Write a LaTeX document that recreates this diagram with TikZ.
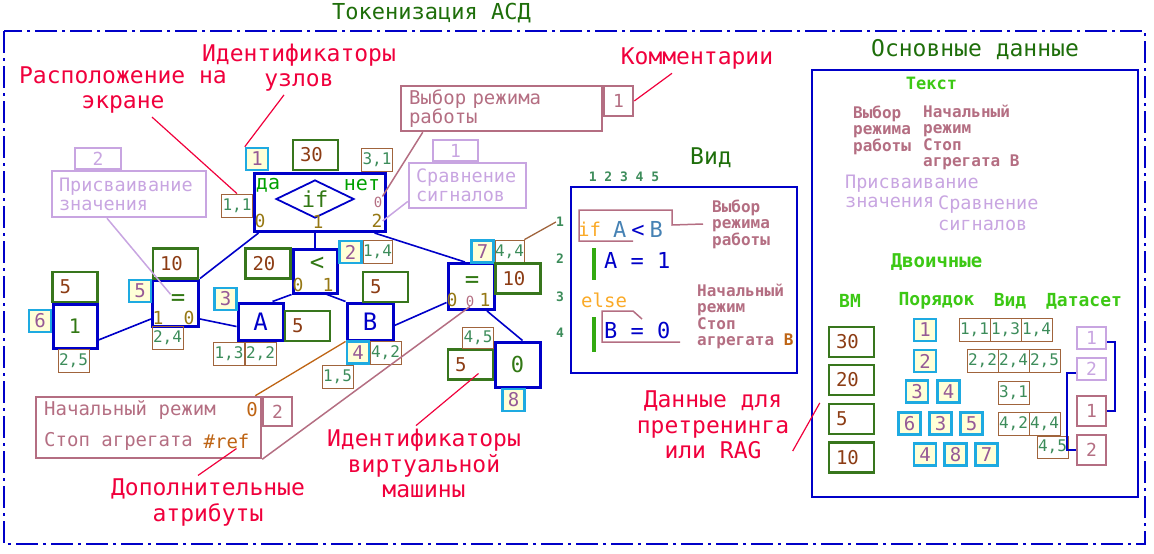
\documentclass[tikz,border=0pt]{standalone}
\usepackage{fontspec}
\setmainfont{DejaVu Sans Mono}
\usetikzlibrary{shapes.geometric,calc}
\definecolor{cadblue}{RGB}{0,0,200}
\definecolor{vmgreen}{RGB}{56,118,29}
\definecolor{numbrown}{RGB}{140,60,20}
\definecolor{idcyan}{RGB}{30,170,225}
\definecolor{idfill}{RGB}{255,255,215}
\definecolor{idtext}{RGB}{150,90,150}
\definecolor{crdbrown}{RGB}{160,100,60}
\definecolor{crdgreen}{RGB}{60,140,90}
\definecolor{lblred}{RGB}{240,0,60}
\definecolor{cmtmauve}{RGB}{180,110,130}
\definecolor{cmtlav}{RGB}{200,165,225}
\definecolor{portolive}{RGB}{150,120,20}
\definecolor{ngreen}{RGB}{50,120,20}
\definecolor{dagreen}{RGB}{0,160,0}
\definecolor{titlegreen}{RGB}{30,110,10}
\definecolor{brightgreen}{RGB}{60,200,20}
\definecolor{kwd}{RGB}{250,170,40}
\definecolor{varblue}{RGB}{70,130,180}
\definecolor{refbrown}{RGB}{190,100,20}
\newcommand{\fsz}[1]{\fontsize{#1}{#1}\selectfont}
\newcommand{\fsl}[2]{\fontsize{#1}{#2}\selectfont}

\begin{document}
\begin{tikzpicture}[x=1pt,y=-1pt,
  gnode/.style={draw=cadblue,line width=3pt,inner sep=0pt},
  sym/.style={text=ngreen,font=\fsz{24},inner sep=0pt},
  vm/.style={draw=vmgreen,line width=2.5pt,inner xsep=7pt,inner ysep=0pt,
             minimum width=45pt,minimum height=30pt,text width=31pt,align=left,
             text=numbrown,font=\fsz{19}},
  nid/.style={draw=idcyan,fill=idfill,line width=2.5pt,inner sep=0pt,
              minimum size=22pt,text=idtext,font=\fsz{19}},
  crd/.style={draw=crdbrown,line width=0.8pt,inner sep=0pt,minimum width=31pt,
              minimum height=23pt,text=crdgreen,font=\fsz{16}},
  port/.style={text=portolive,font=\fsz{18},inner sep=0pt},
  note0/.style={text=cmtmauve,font=\fsz{14},inner sep=0pt},
  yesno/.style={text=dagreen,font=\fsz{20},inner sep=0pt},
  cmtbox/.style={draw=cmtmauve,line width=2.5pt,inner sep=0pt,text=cmtmauve,
                 font=\fsl{19}{19}},
  lavbox/.style={draw=cmtlav,line width=2.5pt,inner sep=0pt,text=cmtlav,
                 font=\fsl{18.5}{19}},
  cmttext/.style={text=cmtmauve,font=\fsz{19},inner sep=0pt,anchor=west},
  lbl/.style={text=lblred,font=\fsl{23}{25.5},align=center},
  link/.style={cadblue,line width=1.6pt},
  lblline/.style={lblred,line width=1.2pt},
  cmtline/.style={cmtmauve,line width=1.5pt},
  lavline/.style={cmtlav,line width=1.5pt},
  panel/.style={draw=cadblue,line width=2pt,inner sep=0pt},
  hdr/.style={text=titlegreen,font=\fsz{23}},
  num/.style={text=crdgreen,font=\bfseries\fsz{13},inner sep=0pt},
  code/.style={text=cadblue,font=\fsz{22},inner sep=0pt},
  vnote/.style={text=cmtmauve,font=\bfseries\fsl{16}{16.5},align=left,inner sep=0pt},
  lavtext/.style={text=cmtlav,font=\fsl{18.5}{19},align=left,inner sep=0pt},
  sub/.style={text=brightgreen,font=\bfseries\fsz{18}}]

\useasboundingbox (0,0) rectangle (1154,554);

% ---- frame ----
\node[text=titlegreen,font=\fsz{22}] (title) at (431.5,13) {Токенизация АСД};
\draw[cadblue,line width=2pt,dash pattern=on 22pt off 5pt on 3pt off 5pt]
  (4,31) rectangle (1145,544);

% ---- if node ----
\node[gnode,minimum width=131pt,minimum height=58pt] (ifn) at (319.5,202.5) {};
\node[diamond,draw=cadblue,line width=1.8pt,aspect=2,minimum width=78pt,
      minimum height=38pt,inner sep=0pt,text=ngreen,font=\fsz{22}] (ifd) at (315,199) {if};
\node[yesno] (ifyes) at (268,185) {да};
\node[yesno] (ifno) at (362,185) {нет};
\node[port] (ifp0) at (260,221) {0};
\node[port] (ifp1) at (318,222) {1};
\node[port] (ifp2) at (377,221) {2};
\node[note0] (ifnote) at (378,202) {0};
\node[nid] (id1) at (257,159) {1};
\node[vm] (vm30) at (315.5,155) {30};
\node[crd] (c31) at (377,160) {3,1};
\node[crd] (c11) at (237,205.5) {1,1};

% ---- < node ----
\node[gnode,minimum size=44pt] (lt) at (315,271) {};
\node[sym] (ltsym) at (317,264) {<};
\node[port] (ltp0) at (298,285) {0};
\node[port] (ltp1) at (328,285) {1};
\node[nid] (id2) at (350.5,252) {2};
\node[crd,minimum width=29pt] (c14) at (377.5,252) {1,4};
\node[vm] (vm20) at (268,263.5) {20};

% ---- A and B ----
\node[gnode,minimum width=45pt,minimum height=37pt,text=cadblue,font=\fsz{24}] (A) at (260.5,321.5) {A};
\node[vm] (vm5a) at (307.5,326) {5};
\node[nid] (id3) at (225.5,299) {3};
\node[crd] (c13) at (229,353.5) {1,3};
\node[crd] (c22) at (260.5,353.5) {2,2};
\node[gnode,minimum width=46pt,minimum height=37pt,text=cadblue,font=\fsz{24}] (B) at (370,321.5) {B};
\node[vm] (vm5b) at (385.5,287) {5};
\node[nid] (id4) at (358,352.5) {4};
\node[crd] (c42) at (385.5,352.5) {4,2};
\node[crd] (c15) at (337.5,376.5) {1,5};

% ---- right = node ----
\node[gnode,minimum size=46pt] (eqR) at (471,286.5) {};
\node[sym] (eqRsym) at (472,282) {=};
\node[port] (eqRp0) at (452,300) {0};
\node[note0] (eqRnote) at (470,301) {0};
\node[port] (eqRp1) at (485,300) {1};
\node[nid] (id7) at (482.5,251.5) {7};
\node[crd,minimum width=29pt] (c44) at (509.5,251.5) {4,4};
\node[vm] (vm10r) at (518,278.5) {10};

% ---- 0 node ----
\node[gnode,minimum size=45pt,text=ngreen,font=\fsz{22}] (zero) at (517.5,364.5) {0};
\node[vm] (vm5z) at (470.5,364.5) {5};
\node[crd,minimum height=21pt] (c45) at (478,337.5) {4,5};
\node[nid] (id8) at (513.5,400) {8};

% ---- left = node ----
\node[gnode,minimum size=46pt] (eqL) at (175.5,303) {};
\node[sym] (eqLsym) at (178,300) {=};
\node[port] (eqLp1) at (158,318) {1};
\node[port] (eqLp0) at (189,318) {0};
\node[vm] (vm10l) at (175.5,263.5) {10};
\node[nid] (id5) at (140,291) {5};
\node[crd] (c24) at (167.5,338) {2,4};

% ---- 1 node ----
\node[gnode,minimum size=44pt,text=ngreen,font=\fsz{20}] (one) at (75,326) {1};
\node[vm] (vm5o) at (75,287) {5};
\node[nid] (id6) at (40,321) {6};
\node[crd] (c25) at (73.5,361) {2,5};

% ---- links ----
\draw[link] (ifn.south -| lt.north) -- (lt.north);
\draw[link] ([xshift=6pt]ifn.south west) -- (eqL.north east);
\draw[link] ([xshift=-12pt]ifn.south east) -- ([xshift=-6pt]eqR.north);
\draw[link] (lt.south west) -- ([xshift=12pt]A.north);
\draw[link] ([xshift=12pt]lt.south) -- (B.north west);
\draw[link] ([yshift=-16pt]eqL.east) -- ([yshift=-5pt]A.west);
\draw[link] ([yshift=-14pt]one.east) -- ([yshift=-16pt]eqL.west);
\draw[link] ([yshift=-4pt]B.east) -- ([yshift=-16pt]eqR.west);
\draw[link] ([xshift=16pt]eqR.south) -- ([xshift=5pt]zero.north);

% ---- comments ----
\node[cmtbox,minimum width=201pt,minimum height=45pt,text width=185pt,align=left] (cmt1) at (501.5,108.5) {Выбор режима\\работы};
\node[cmtbox,minimum width=29pt,minimum height=30pt,font=\fsz{18}] (cmt1n) at (618.5,101) {1};
\node[lavbox,minimum width=45pt,minimum height=21pt,font=\fsz{18}] (lav1n) at (455.5,150.5) {1};
\node[lavbox,minimum width=117pt,minimum height=45pt,text width=103pt,align=left] (lav1) at (467.5,185.5) {Сравнение\\сигналов};
\node[lavbox,minimum width=46pt,minimum height=21pt,font=\fsz{18}] (lav2n) at (98,158.5) {2};
\node[lavbox,minimum width=154pt,minimum height=46pt,text width=140pt,align=left] (lav2) at (129,194) {Присваивание\\значения};
\node[cmtbox,minimum width=225pt,minimum height=61pt] (cmt2) at (148.5,427.5) {};
\node[cmtbox,minimum width=29pt,minimum height=29pt,font=\fsz{18}] (cmt2n) at (277.5,411.5) {2};
\node[cmttext] (cmt2a) at (44,410) {Начальный режим};
\node[cmttext] (cmt2b) at (44,441) {Стоп агрегата};
\node[text=refbrown,font=\fsz{19},inner sep=0pt] (cmt2z) at (252,410) {0};
\node[text=refbrown,font=\fsz{19},inner sep=0pt] (cmt2ref) at (226.5,441) {\#ref};
\draw[cmtline] ([xshift=23pt]cmt1.south west) -- (ifnote.north east);
\draw[lavline] ([yshift=-16pt]lav1.west) -- (ifp2.east);
\draw[lavline] ([xshift=-22pt]lav2.south) -- (eqLsym.north west);
\draw[refbrown,line width=1.3pt] ([xshift=-7pt]cmt2.north east) -- (B.south west);
\draw[cmtline] (cmt2.south east) -- (eqRnote.south);

% ---- labels ----
\node[lbl] (lblpos) at (123,90) {Расположение на\\экране};
\node[lbl] (lblids) at (299,67.5) {Идентификаторы\\узлов};
\node[lbl] (lblcom) at (697,59) {Комментарии};
\node[lbl] (lbldop) at (208,502.5) {Дополнительные\\атрибуты};
\node[lbl] (lblvm) at (424,463.5) {Идентификаторы\\виртуальной\\машины};
\node[lbl] (lbldata) at (713,425) {Данные для\\претренинга\\или RAG};
\draw[lblline] ([xshift=29pt]lblpos.south) -- (c11.north);
\draw[lblline] ([xshift=-15pt]lblids.south) -- (id1.north west);
\draw[lblline] ([xshift=-25pt]lblcom.south) -- (cmt1n.east);
\draw[lblline] ([xshift=-10pt]lbldop.north) -- ([xshift=10pt]cmt2ref.south);
\draw[lblline] ([xshift=-8pt]lblvm.north) -- ([shift={(8pt,-9pt)}]vm5z.center);

% ---- Vid panel ----
\node[hdr] (vidttl) at (711,158) {Вид};
\node[num] (vcols) at (624,177) {1 2 3 4 5};
\node[panel,minimum width=226pt,minimum height=186pt] (vidbox) at (684,280) {};
\node[num] (vr1) at (560,222) {1};
\node[num] (vr2) at (560,259) {2};
\node[num] (vr3) at (560,297) {3};
\node[num] (vr4) at (560,333) {4};
\node[code,text=kwd,font=\fsz{19}] (vif) at (589.5,229) {if};
\node[code] (vcond) at (638,229) {{\color{varblue}A}\kern5pt<\kern5pt{\color{varblue}B}};
\node[vnote,anchor=west] (vnote1) at (712,224) {Выбор\\режима\\работы};
\draw[cmtline] (633,241) -- (579,241) -- (579,210) -- (672,210) -- (672,225) -- ([xshift=-9pt]vnote1.west);
\draw[brightgreen!85!black,line width=3.5pt] (594,248) -- (594,280);
\node[code,anchor=west] (vA) at (604,260) {A = 1};
\node[code,text=kwd,font=\fsz{19},anchor=west] (velse) at (581,300) {else};
\draw[brightgreen!85!black,line width=3.5pt] (594,317) -- (594,352);
\node[code,anchor=west] (vB) at (604,330) {B = 0};
\draw[cmtline] (680,342) -- (602,342) -- (602,311) -- (633,311) -- (642,319);
\node[vnote,anchor=west] (vnote2) at (697,316.5) {Начальный\\режим\\Стоп\\агрегата {\color{refbrown}B}};
\draw[crdbrown,line width=1.3pt] (c44.north east) -- (vr1.west);

% ---- main data ----
\node[hdr] (osnttl) at (975,50) {Основные данные};
\node[panel,minimum width=326pt,minimum height=427pt] (osnbox) at (975,283.5) {};
\node[sub,font=\bfseries\fsz{17}] (osntxt) at (931.5,83) {Текст};
\node[vnote,anchor=west] (ot1) at (853,130) {Выбор\\режима\\работы};
\node[vnote,anchor=west] (ot2) at (923,137.5) {Начальный\\режим\\Стоп\\агрегата B};
\node[lavtext,anchor=west] (ot3) at (845,191) {Присваивание\\значения};
\node[lavtext,anchor=west,font=\fsl{18.5}{21}] (ot4) at (938,213.5) {Сравнение\\сигналов};
\node[sub,font=\bfseries\fsz{19}] (osnbin) at (936.5,262) {Двоичные};
\node[sub] (hvm) at (850,301) {ВМ};
\node[sub] (hord) at (936.5,301) {Порядок};
\node[sub] (hvid) at (1010,301) {Вид};
\node[sub] (hset) at (1084,301) {Датасет};

\node[vm] (vmd30) at (851.5,342) {30};
\node[vm] (vmd20) at (851.5,380) {20};
\node[vm] (vmd5) at (851.5,419) {5};
\node[vm] (vmd10) at (851.5,457.5) {10};
\draw[lblline] ([yshift=-26pt]lbldata.east) -- ([shift={(-8pt,16pt)}]vmd5.west);

\node[nid] (o1) at (925,330) {1};
\node[nid] (o2) at (925,361) {2};
\node[nid] (o3) at (917,391.5) {3};
\node[nid] (o4) at (948.5,391.5) {4};
\node[nid] (o6) at (909.5,423.5) {6};
\node[nid] (o3b) at (940.5,423.5) {3};
\node[nid] (o5) at (971.5,423.5) {5};
\node[nid] (o4b) at (925,454.5) {4};
\node[nid] (o8) at (955.5,454.5) {8};
\node[nid] (o7) at (986.5,454.5) {7};

\node[crd] (v11) at (974.5,330) {1,1};
\node[crd] (v13) at (1005.5,330) {1,3};
\node[crd] (v14) at (1036.5,330) {1,4};
\node[crd] (v22) at (982.5,361) {2,2};
\node[crd] (v24) at (1013.5,361) {2,4};
\node[crd] (v25) at (1044.5,361) {2,5};
\node[crd] (v31) at (1013.5,392.5) {3,1};
\node[crd] (v42) at (1013.5,424) {4,2};
\node[crd] (v44) at (1044.5,424) {4,4};
\node[crd,minimum height=22pt] (v45) at (1052.5,447) {4,5};

\node[lavbox,minimum width=29pt,minimum height=22pt,font=\fsz{18}] (dl1) at (1091.5,338) {1};
\node[lavbox,minimum width=29pt,minimum height=22pt,font=\fsz{18}] (dl2) at (1091.5,369) {2};
\node[cmtbox,minimum width=29pt,minimum height=30pt,font=\fsz{18}] (dm1) at (1091.5,411) {1};
\node[cmtbox,minimum width=29pt,minimum height=30pt,font=\fsz{18}] (dm2) at (1091.5,450) {2};
\draw[link] ([yshift=-4pt]dl1.east) -- ++(8,0) |- (dm1.east);
\draw[link] ([yshift=-4pt]dl2.west) -- ++(-9,0) |- (dm2.west);
\end{tikzpicture}
\end{document}
